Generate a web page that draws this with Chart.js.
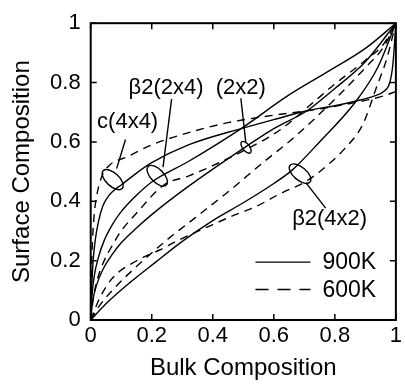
<!DOCTYPE html>
<html>
<head>
<meta charset="utf-8">
<script src="https://cdn.jsdelivr.net/npm/chart.js@4.4.0/dist/chart.umd.min.js"></script>
<style>
  html, body { margin: 0; padding: 0; background: #fff; }
  #wrap { width: 405px; height: 386px; }
</style>
</head>
<body>
<div id="wrap"><canvas id="chart"></canvas></div>
<script>
// bulk composition (x) and surface composition (y) for each reconstruction
const c4x4_900_x = [0, 0.003, 0.008, 0.015, 0.025, 0.04, 0.06, 0.08, 0.1, 0.15, 0.2, 0.32, 0.493, 0.6, 0.709, 0.8, 0.87, 0.93, 0.96, 0.98, 0.99, 1];
const c4x4_900_y = [0, 0.1, 0.2, 0.27, 0.33, 0.385, 0.42, 0.44, 0.455, 0.495, 0.53, 0.59, 0.645, 0.675, 0.705, 0.722, 0.738, 0.755, 0.77, 0.8, 0.86, 1];
const c4x4_600_x = [0, 0.002, 0.006, 0.012, 0.02, 0.035, 0.06, 0.12, 0.2, 0.3, 0.45, 0.6, 0.709, 0.8, 0.9, 0.96, 1];
const c4x4_600_y = [0, 0.15, 0.27, 0.36, 0.42, 0.48, 0.52, 0.55, 0.59, 0.625, 0.665, 0.69, 0.705, 0.72, 0.74, 0.755, 0.77];

const b2x4_900_x = [0, 0.004, 0.012, 0.025, 0.045, 0.07, 0.1, 0.15, 0.2, 0.32, 0.493, 0.645, 0.774, 0.9, 1];
const b2x4_900_y = [0, 0.08, 0.15, 0.21, 0.27, 0.32, 0.365, 0.42, 0.465, 0.534, 0.645, 0.755, 0.835, 0.915, 1];
const b2x4_600_x = [0, 0.008, 0.02, 0.04, 0.07, 0.1, 0.15, 0.24, 0.32, 0.4, 0.5, 0.62, 0.72, 0.8, 0.9, 0.96, 1];
const b2x4_600_y = [0, 0.07, 0.13, 0.19, 0.25, 0.3, 0.36, 0.455, 0.485, 0.52, 0.57, 0.64, 0.725, 0.795, 0.875, 0.93, 1];

const s2x2_900_x = [0, 0.006, 0.02, 0.04, 0.07, 0.1, 0.15, 0.2, 0.32, 0.51, 0.6, 0.709, 0.8, 0.9, 1];
const s2x2_900_y = [0, 0.06, 0.12, 0.17, 0.22, 0.26, 0.31, 0.355, 0.45, 0.585, 0.645, 0.705, 0.78, 0.87, 1];
const s2x2_600_x = [0, 0.03, 0.08, 0.15, 0.25, 0.343, 0.46, 0.558, 0.666, 0.806, 0.9, 0.96, 1];
const s2x2_600_y = [0, 0.05, 0.11, 0.18, 0.27, 0.345, 0.44, 0.525, 0.615, 0.75, 0.85, 0.92, 1];

const b4x2_900_x = [0, 0.05, 0.127, 0.213, 0.3, 0.4, 0.5, 0.6, 0.66, 0.75, 0.87, 0.94, 1];
const b4x2_900_y = [0, 0.055, 0.125, 0.195, 0.265, 0.335, 0.395, 0.46, 0.505, 0.6, 0.738, 0.85, 1];
const b4x2_600_x = [0, 0.03, 0.073, 0.148, 0.224, 0.29, 0.397, 0.47, 0.537, 0.62, 0.71, 0.784, 0.83, 0.892, 0.935, 0.97, 1];
const b4x2_600_y = [0, 0.075, 0.143, 0.198, 0.235, 0.27, 0.32, 0.353, 0.38, 0.425, 0.47, 0.529, 0.575, 0.66, 0.78, 0.88, 1];

const tickValues = [0, 0.2, 0.4, 0.6, 0.8, 1];
const legendLabels = ['900K', '600K'];

// annotation marks: ellipse centre, label centre and leader line, in data units
const labelNotes = [
    { text: 'c(4x4)',  ex: 0.072, ey: 0.473, rx: 13, ry: 6.5, rot: 0.75, lx: 0.121, ly: 0.668, a: [0.085, 0.51], b: [0.114, 0.608] },
    { text: 'β2(2x4)', ex: 0.218, ey: 0.486, rx: 13, ry: 6.5, rot: 0.8,  lx: 0.247, ly: 0.783, a: [0.237, 0.515], b: [0.265, 0.744] },
    { text: '(2x2)',   ex: 0.509, ey: 0.582, rx: 7,  ry: 3.5, rot: 0.9,  lx: 0.492, ly: 0.783, a: [0.508, 0.6],  b: [0.492, 0.747] },
    { text: 'β2(4x2)', ex: 0.686, ey: 0.493, rx: 13, ry: 6.5, rot: 0.7,  lx: 0.783, ly: 0.34,  a: [0.705, 0.463], b: [0.77, 0.377] }
];

function pts(xs, ys) {
    return xs.map((x, i) => ({ x: x, y: ys[i] }));
}

const FONT = '"Liberation Sans", Arial, sans-serif';
const DASH = [8, 6];

function series(xs, ys, dashed) {
    return {
        data: pts(xs, ys),
        borderColor: '#000',
        borderWidth: 1.4,
        borderDash: dashed ? DASH : [],
        pointRadius: 0,
        fill: false,
        cubicInterpolationMode: 'monotone'
    };
}

function tickText(v) {
    if (v === 0) return '0';
    if (v === 1) return '1';
    return v.toFixed(1);
}

const decorations = {
    id: 'decorations',
    afterDatasetsDraw(chart) {
        const ctx = chart.ctx;
        const xs = chart.scales.x, ys = chart.scales.y;
        const area = chart.chartArea;
        ctx.save();
        ctx.strokeStyle = '#000';
        ctx.fillStyle = '#000';

        // inward ticks on all four sides
        ctx.lineWidth = 1.5;
        tickValues.forEach(v => {
            const px = xs.getPixelForValue(v);
            const py = ys.getPixelForValue(v);
            ctx.beginPath();
            ctx.moveTo(px, area.bottom); ctx.lineTo(px, area.bottom - 6);
            ctx.moveTo(px, area.top); ctx.lineTo(px, area.top + 6);
            ctx.moveTo(area.left, py); ctx.lineTo(area.left + 6, py);
            ctx.moveTo(area.right, py); ctx.lineTo(area.right - 6, py);
            ctx.stroke();
        });

        // frame
        ctx.lineWidth = 2;
        ctx.strokeRect(area.left, area.top, area.right - area.left, area.bottom - area.top);

        // ellipses, leaders, labels
        ctx.lineWidth = 1.4;
        ctx.font = '22px ' + FONT;
        ctx.textAlign = 'center';
        ctx.textBaseline = 'middle';
        labelNotes.forEach(n => {
            ctx.beginPath();
            ctx.ellipse(xs.getPixelForValue(n.ex), ys.getPixelForValue(n.ey), n.rx, n.ry, n.rot, 0, Math.PI * 2);
            ctx.stroke();
            ctx.beginPath();
            ctx.moveTo(xs.getPixelForValue(n.a[0]), ys.getPixelForValue(n.a[1]));
            ctx.lineTo(xs.getPixelForValue(n.b[0]), ys.getPixelForValue(n.b[1]));
            ctx.stroke();
            ctx.fillText(n.text, xs.getPixelForValue(n.lx), ys.getPixelForValue(n.ly));
        });

        // legend
        const lx0 = xs.getPixelForValue(0.54), lx1 = xs.getPixelForValue(0.72);
        ctx.textAlign = 'left';
        ctx.font = '23px ' + FONT;
        legendLabels.forEach((lab, i) => {
            const y = ys.getPixelForValue(0.195 - i * 0.092);
            ctx.setLineDash(i === 0 ? [] : [13, 9]);
            ctx.lineWidth = 1.4;
            ctx.beginPath();
            ctx.moveTo(lx0, y); ctx.lineTo(lx1, y);
            ctx.stroke();
            ctx.setLineDash([]);
            ctx.fillText(lab, lx1 + 12, y + 1);
        });
        ctx.restore();
    }
};

const ctx = document.getElementById('chart').getContext('2d');
new Chart(ctx, {
    type: 'line',
    data: {
        datasets: [
            series(c4x4_900_x, c4x4_900_y, false),
            series(c4x4_600_x, c4x4_600_y, true),
            series(b2x4_900_x, b2x4_900_y, false),
            series(b2x4_600_x, b2x4_600_y, true),
            series(s2x2_900_x, s2x2_900_y, false),
            series(s2x2_600_x, s2x2_600_y, true),
            series(b4x2_900_x, b4x2_900_y, false),
            series(b4x2_600_x, b4x2_600_y, true)
        ]
    },
    options: {
        responsive: true,
        maintainAspectRatio: false,
        animation: false,
        layout: { padding: { top: 17, right: 5, left: 3, bottom: 0 } },
        plugins: { legend: { display: false }, tooltip: { enabled: false } },
        scales: {
            x: {
                type: 'linear', min: 0, max: 1,
                afterFit(scale) { scale.height = 66; },
                afterBuildTicks(scale) { scale.ticks = tickValues.map(v => ({ value: v })); },
                grid: { display: false, drawTicks: false },
                border: { display: false },
                ticks: { color: '#000', font: { family: FONT, size: 22 }, padding: 3, maxRotation: 0, callback: tickText },
                title: { display: true, text: 'Bulk Composition', color: '#000', font: { family: FONT, size: 24 }, padding: { top: 0, bottom: 3 } }
            },
            y: {
                type: 'linear', min: 0, max: 1,
                afterFit(scale) { scale.width = 87.7; },
                afterBuildTicks(scale) { scale.ticks = tickValues.map(v => ({ value: v })); },
                grid: { display: false, drawTicks: false },
                border: { display: false },
                ticks: { color: '#000', font: { family: FONT, size: 22 }, padding: 10, callback: tickText },
                title: { display: true, text: 'Surface Composition', color: '#000', font: { family: FONT, size: 24 }, padding: { top: 5, bottom: 0 } }
            }
        }
    },
    plugins: [decorations]
});
</script>
</body>
</html>
